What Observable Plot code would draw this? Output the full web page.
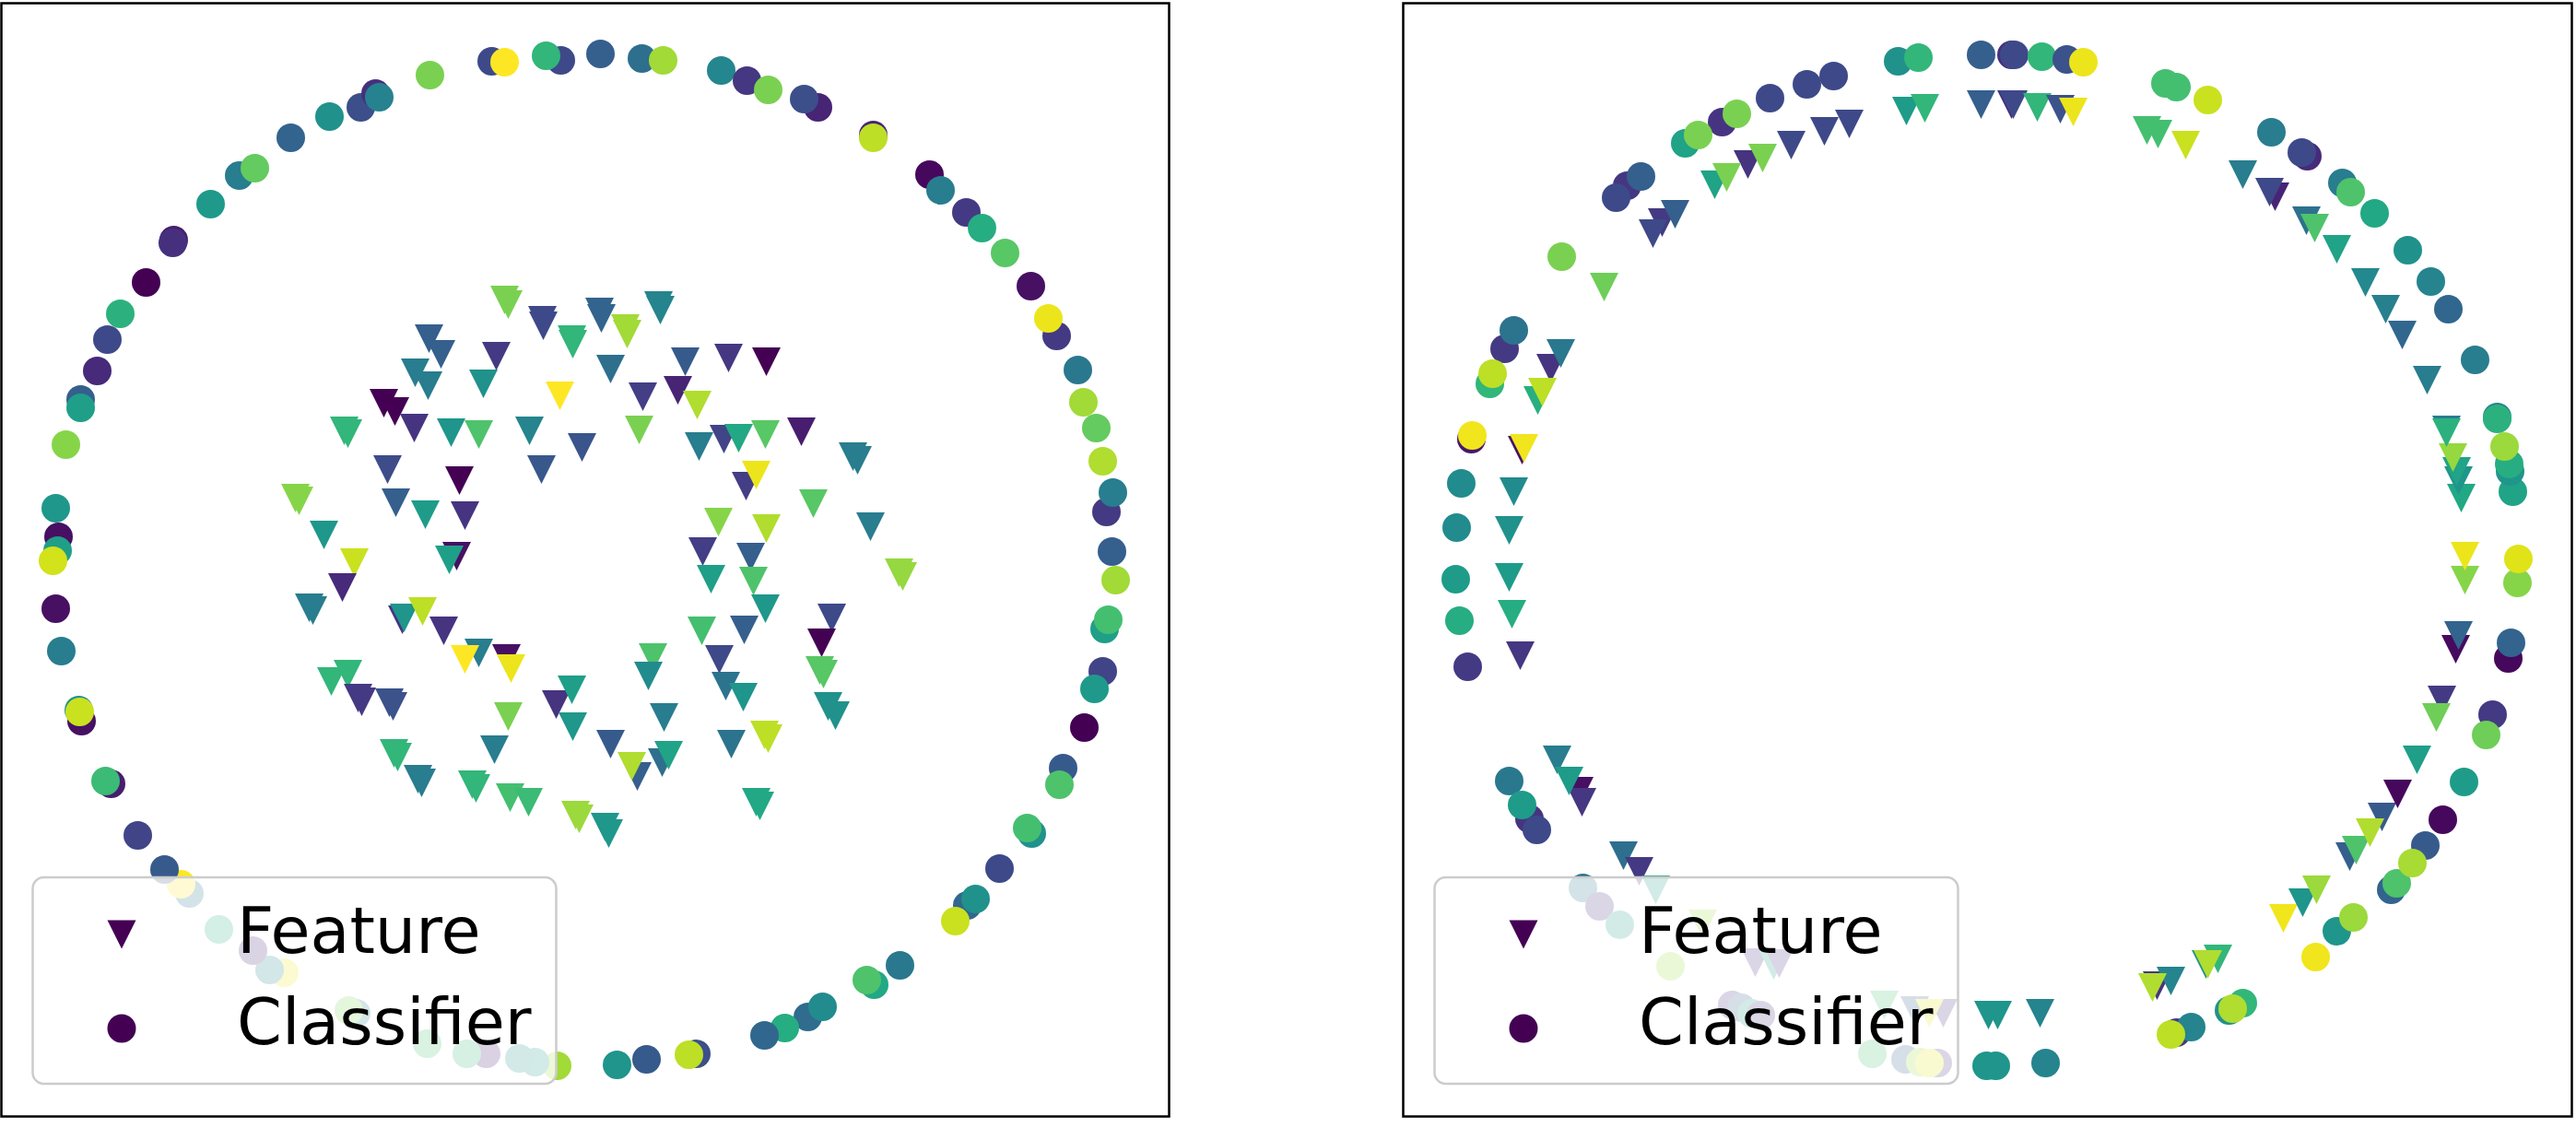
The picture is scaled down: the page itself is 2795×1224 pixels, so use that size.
<!DOCTYPE html>
<html><head><meta charset="utf-8">
<script src="https://cdn.jsdelivr.net/npm/d3@7"></script>
<script src="https://cdn.jsdelivr.net/npm/@observablehq/plot@0.6"></script>
<style>
html,body{margin:0;padding:0;background:#fff;}
#root{position:relative;width:2795px;height:1224px;overflow:hidden;background:#fff;}
#root > svg{position:absolute;max-width:none;}
</style></head><body><div id="root"></div>
<script>
// Points: [x, y, value]; value drives the viridis colour.
const featL = [
[547,325,0.8],[551,330,0.8],[588,347,0.22],[589,353,0.22],[620,368,0.66],[621,373,0.66],
[650,338,0.32],[652,345,0.32],[714,331,0.45],[716,336,0.45],[678,356,0.86],[680,362,0.86],
[465,367,0.3],[478,384,0.3],[538,386,0.17],[450,404,0.42],[464,418,0.42],[524,416,0.5],
[607,429,1.0],[416,437,0.0],[428,446,0.0],[449,464,0.15],[373,467,0.66],[377,470,0.66],
[489,469,0.52],[519,471,0.72],[574,467,0.45],[631,485,0.26],[662,400,0.36],[743,392,0.28],
[790,388,0.16],[831,392,0.0],[697,430,0.18],[735,423,0.1],[756,439,0.88],[693,466,0.8],
[758,484,0.42],[785,476,0.2],[801,475,0.6],[830,471,0.74],[869,468,0.08],[925,495,0.42],
[930,499,0.42],[420,509,0.23],[498,521,0.0],[587,509,0.27],[809,527,0.18],[820,515,0.97],
[882,546,0.74],[320,540,0.82],[324,543,0.82],[429,545,0.3],[461,558,0.55],[504,559,0.15],
[779,566,0.82],[831,573,0.88],[944,571,0.42],[351,580,0.53],[762,598,0.18],[814,604,0.3],
[384,610,0.92],[495,603,0.04],[487,607,0.56],[371,637,0.12],[975,621,0.84],[979,625,0.84],
[771,628,0.56],[817,630,0.72],[830,660,0.53],[335,659,0.42],[339,662,0.42],[436,672,0.15],
[438,670,0.52],[458,663,0.9],[481,684,0.15],[519,708,0.42],[504,715,1.0],[549,714,0.04],
[554,725,0.97],[359,739,0.66],[377,731,0.66],[388,757,0.17],[392,761,0.17],[422,762,0.25],
[426,766,0.25],[603,764,0.15],[620,748,0.56],[551,777,0.8],[621,788,0.53],[761,684,0.7],
[807,683,0.3],[902,670,0.22],[891,697,0.0],[708,713,0.72],[703,733,0.48],[780,715,0.22],
[787,744,0.38],[806,756,0.52],[889,727,0.74],[893,731,0.74],[898,766,0.5],[906,776,0.5],
[720,778,0.42],[662,807,0.28],[793,807,0.38],[829,797,0.9],[833,801,0.9],[691,842,0.3],
[685,831,0.88],[718,827,0.36],[725,819,0.58],[427,817,0.66],[431,821,0.66],[453,845,0.42],
[457,849,0.42],[536,813,0.42],[512,851,0.66],[516,855,0.66],[553,865,0.7],[573,870,0.68],
[624,884,0.85],[628,888,0.85],[820,870,0.6],[824,874,0.6],[656,897,0.53],[660,904,0.53]
];
const clsL = [
[533,66,0.22],[547,67,1.0],[608,65,0.22],[592,60,0.66],[651,58,0.3],[696,63,0.36],[719,65,0.86],
[782,76,0.46],[810,87,0.16],[833,97,0.8],[887,116,0.1],[872,107,0.24],[947,146,0.1],[947,149,0.9],
[1008,189,0.02],[1020,206,0.42],[1048,230,0.17],[1065,247,0.62],[1090,274,0.74],[1118,310,0.04],
[1146,364,0.17],[1137,345,0.97],[1169,401,0.4],[1175,436,0.86],[1189,464,0.76],[1196,500,0.88],
[1200,555,0.17],[1207,534,0.42],[1206,598,0.3],[1210,629,0.86],[1198,682,0.56],[1202,672,0.7],
[1196,728,0.2],[1187,747,0.54],[1176,789,0.0],[1153,833,0.28],[1149,851,0.72],[1119,904,0.5],
[1114,898,0.7],[1084,942,0.22],[1049,982,0.33],[1058,975,0.5],[1036,999,0.92],[976,1047,0.4],
[948,1068,0.6],[940,1063,0.72],[876,1103,0.35],[892,1092,0.48],[851,1115,0.62],[829,1123,0.33],
[755,1143,0.24],[747,1144,0.9],[701,1149,0.28],[669,1155,0.52],[604,1156,0.86],[580,1152,0.52],
[563,1148,0.5],[527,1143,0.08],[506,1143,0.66],[463,1132,0.7],[386,1099,0.45],[378,1096,0.8],
[308,1055,0.97],[292,1052,0.45],[274,1031,0.1],[237,1008,0.62],[205,969,0.38],[196,959,1.0],
[178,943,0.28],[149,906,0.2],[120,850,0.08],[114,847,0.68],[88,782,0.04],[85,770,0.5],[86,772,0.92],
[66,706,0.42],[60,660,0.04],[63,582,0.04],[62,597,0.56],[57,608,0.93],[60,551,0.53],[71,482,0.82],
[87,433,0.3],[87,442,0.56],[105,402,0.12],[116,368,0.22],[130,340,0.64],[158,306,0.0],
[188,260,0.08],[187,263,0.14],[228,221,0.54],[259,190,0.42],[276,182,0.76],[315,149,0.32],
[357,126,0.5],[391,116,0.24],[407,101,0.14],[411,105,0.44],[466,81,0.8]
];
const featR = [
[2068,120,0.55],[2088,117,0.66],[2149,113,0.3],[2182,113,0.14],[2184,113,0.22],[2210,116,0.66],
[2235,118,0.25],[2249,121,0.97],[2006,134,0.22],[1979,142,0.22],[1943,157,0.22],[1896,178,0.15],
[1912,171,0.8],[1860,200,0.58],[1873,192,0.8],[1803,241,0.17],[1793,253,0.22],[1817,232,0.3],
[1740,311,0.78],[1682,399,0.15],[1693,383,0.4],[1668,434,0.63],[1673,425,0.9],[1651,488,0.05],
[1653,486,0.98],[1642,533,0.48],[1637,575,0.5],[1637,626,0.55],[1640,666,0.62],[1649,711,0.16],
[1689,824,0.42],[1713,858,0.04],[1716,870,0.16],[1702,847,0.55],[1761,928,0.36],[1778,945,0.17],
[1796,965,0.55],[1847,1002,0.85],[1904,1044,0.15],[1924,1047,0.55],[1930,1045,0.15],
[2044,1090,0.7],[2077,1096,0.3],[2108,1099,0.15],[2093,1099,0.95],[2157,1101,0.52],[2167,1101,0.52],
[2213,1099,0.45],[2340,1069,0.15],[2355,1064,0.45],[2335,1071,0.88],[2393,1046,0.5],[2406,1040,0.66],
[2395,1046,0.88],[2477,996,0.98],[2498,979,0.52],[2513,965,0.85],[2549,929,0.3],[2556,922,0.72],
[2584,886,0.28],[2571,903,0.88],[2601,861,0.02],[2622,824,0.56],[2649,759,0.17],[2643,778,0.78],
[2664,704,0.03],[2667,689,0.32],[2674,629,0.82],[2674,603,0.97],[2670,540,0.6],[2667,521,0.52],
[2665,511,0.58],[2661,496,0.84],[2654,466,0.42],[2654,469,0.64],[2633,412,0.42],[2606,363,0.33],
[2588,335,0.43],[2566,306,0.47],[2535,270,0.58],[2502,239,0.37],[2511,247,0.72],[2468,213,0.1],
[2462,208,0.22],[2433,189,0.42],[2371,157,0.92],[2329,141,0.7],[2341,145,0.7]
];
const clsR = [
[2059,66,0.5],[2081,62,0.66],[2149,59,0.3],[2182,59,0.14],[2185,59,0.22],[2215,61,0.66],
[2242,64,0.25],[2260,67,0.97],[1989,82,0.22],[1960,91,0.22],[1920,106,0.22],[1868,132,0.15],
[1884,123,0.8],[1828,155,0.58],[1842,146,0.8],[1765,201,0.16],[1753,214,0.22],[1780,191,0.3],
[1694,278,0.8],[1632,378,0.17],[1642,358,0.38],[1616,416,0.66],[1619,405,0.9],[1596,476,0.06],
[1597,472,0.98],[1585,524,0.48],[1580,572,0.48],[1579,628,0.55],[1583,673,0.62],[1592,723,0.17],
[1637,847,0.4],[1659,888,0.15],[1667,900,0.22],[1651,873,0.55],[1717,963,0.38],[1735,983,0.15],
[1757,1003,0.55],[1812,1048,0.85],[1879,1090,0.15],[1889,1093,0.3],[1900,1099,0.55],[1910,1101,0.15],
[2031,1143,0.7],[2102,1153,0.15],[2067,1149,0.3],[2083,1152,0.85],[2093,1153,0.95],
[2155,1156,0.52],[2165,1156,0.52],[2219,1153,0.45],[2361,1120,0.17],[2377,1114,0.45],[2355,1122,0.9],
[2418,1096,0.5],[2433,1088,0.66],[2422,1094,0.88],[2512,1038,0.98],[2535,1010,0.52],[2553,995,0.85],
[2594,965,0.32],[2600,958,0.72],[2631,917,0.28],[2617,936,0.87],[2650,889,0.02],[2673,848,0.55],
[2704,775,0.17],[2697,797,0.78],[2721,714,0.02],[2724,697,0.32],[2731,632,0.82],[2732,606,0.95],
[2726,533,0.58],[2723,511,0.52],[2722,503,0.62],[2717,484,0.85],[2709,452,0.45],[2709,454,0.64],
[2685,390,0.42],[2656,335,0.33],[2637,305,0.45],[2612,271,0.5],[2576,231,0.6],[2541,198,0.42],
[2550,208,0.72],[2503,169,0.12],[2497,165,0.22],[2464,143,0.42],[2395,108,0.92],[2349,90,0.7],
[2361,94,0.7]
];
const legendLabels = ["Feature", "Classifier"];

const root = document.getElementById("root");
const triDown = {draw(ctx, size) {
  const h = Math.sqrt(size / Math.PI);
  ctx.moveTo(-h, -h); ctx.lineTo(h, -h); ctx.lineTo(0, h); ctx.closePath();
}};
const R = 15.5;
const panels = [
  {feat: featL, cls: clsL, x0: 1, x1: 1268, left: 0},
  {feat: featR, cls: clsR, x0: 1522, x1: 2790, left: 1518}
];
for (const p of panels) {
  const width = p.x1 - p.left + 4;
  const chart = Plot.plot({
    width, height: 1214,
    marginLeft: p.x0 - p.left, marginRight: width - (p.x1 - p.left), marginTop: 3, marginBottom: 3,
    x: {domain: [p.x0, p.x1], axis: null},
    y: {domain: [1211, 3], axis: null},
    color: {type: "linear", scheme: "viridis", domain: [0, 1]},
    marks: [
      Plot.dot(p.feat, {x: d => d[0], y: d => d[1], fill: d => d[2], stroke: "none", symbol: triDown, r: R}),
      Plot.dot(p.cls, {x: d => d[0], y: d => d[1], fill: d => d[2], stroke: "none", symbol: "circle", r: R}),
      Plot.frame({stroke: "black", strokeWidth: 2.5})
    ]
  });
  chart.style.left = p.left + "px";
  chart.style.top = "0px";
  chart.style.maxWidth = "none";
  root.append(chart);
}
// legends
const ov = d3.select(root).append("svg").attr("width", 2795).attr("height", 1224)
  .style("left", "0px").style("top", "0px");
const legendSymbols = [triDown, d3.symbolCircle];
const c0 = d3.interpolateViridis(0);
for (const p of panels) {
  const g = ov.append("g").attr("transform", `translate(${p.x0},0)`);
  g.append("rect").attr("x", 34.5).attr("y", 952).attr("width", 568).attr("height", 224).attr("rx", 12)
    .attr("fill", "white").attr("fill-opacity", 0.8).attr("stroke", "#cccccc").attr("stroke-width", 2.5);
  legendLabels.forEach((lab, i) => {
    const cy = [1014, 1116][i];
    g.append("path").attr("transform", `translate(131,${cy})`)
      .attr("d", d3.symbol(legendSymbols[i], R * R * Math.PI)()).attr("fill", c0);
    g.append("text").attr("x", 256).attr("y", [1034, 1133][i]).text(lab)
      .attr("font-family", "DejaVu Sans").attr("font-size", 70).attr("fill", "black");
  });
}
</script></body></html>
